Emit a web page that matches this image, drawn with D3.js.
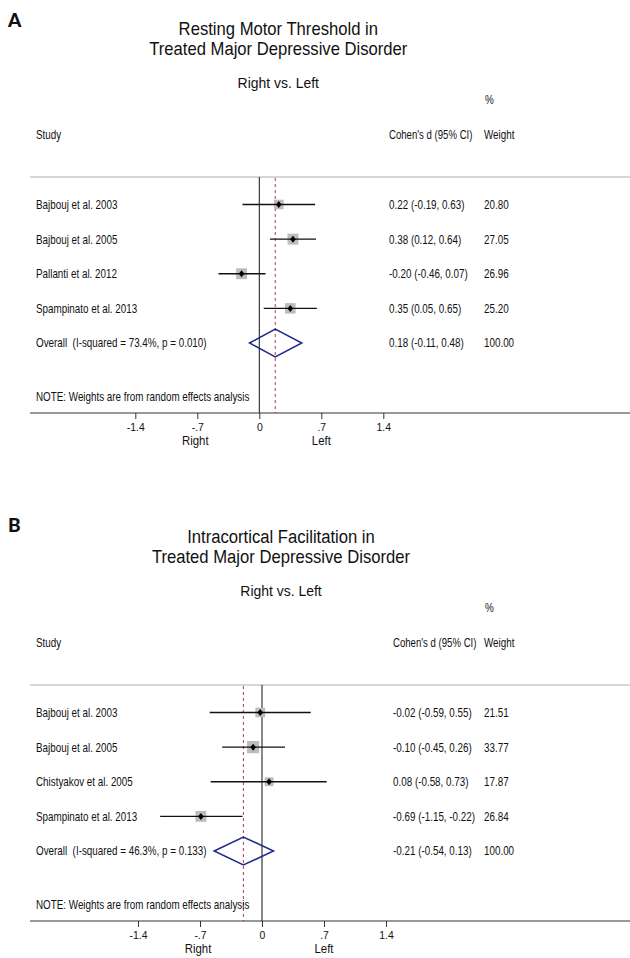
<!DOCTYPE html>
<html>
<head>
<meta charset="utf-8">
<script src="https://cdn.jsdelivr.net/npm/d3@7"></script>
<style>
  body { margin: 0; background: #fff; }
  text { font-family: "Liberation Sans", Arial, sans-serif; fill: #111; }
</style>
</head>
<body>
<svg id="chart" width="630" height="958"></svg>
<script>
// ---- data ----
var panelLetters = ["A", "B"];
var titlesLine1 = ["Resting Motor Threshold in", "Intracortical Facilitation in"];
var titlesLine2 = ["Treated Major Depressive Disorder", "Treated Major Depressive Disorder"];
var subtitle = "Right vs. Left";

var studiesA = ["Bajbouj et al. 2003", "Bajbouj et al. 2005", "Pallanti et al. 2012", "Spampinato et al. 2013"];
var esA = [0.22, 0.38, -0.20, 0.35];
var loA = [-0.19, 0.12, -0.46, 0.05];
var hiA = [0.63, 0.64, 0.07, 0.65];
var weightA = [20.80, 27.05, 26.96, 25.20];

var studiesB = ["Bajbouj et al. 2003", "Bajbouj et al. 2005", "Chistyakov et al. 2005", "Spampinato et al. 2013"];
var esB = [-0.02, -0.10, 0.08, -0.69];
var loB = [-0.59, -0.45, -0.58, -1.15];
var hiB = [0.55, 0.26, 0.73, -0.22];
var weightB = [21.51, 33.77, 17.87, 26.84];

// overall: [es, lo, hi, weight]
var overallA = [0.18, -0.11, 0.48, 100];
var overallB = [-0.21, -0.54, 0.13, 100];
var overallLabels = ["Overall  (I-squared = 73.4%, p = 0.010)", "Overall  (I-squared = 46.3%, p = 0.133)"];

var tickVals = [-1.4, -0.7, 0, 0.7, 1.4];
var tickLabels = ["-1.4", "-.7", "0", ".7", "1.4"];
var noteText = "NOTE: Weights are from random effects analysis";

var svg = d3.select("#chart");
var f2 = d3.formatLocale({ decimal: ".", thousands: ",", grouping: [3], currency: ["", ""], minus: "-" }).format(".2f");

// squeeze text horizontally like the source image (scale around its x anchor)
function condense(sel, k) {
  k = k || 0.9;
  sel.each(function () {
    var t = d3.select(this);
    var x0 = +t.attr("x") || 0;
    t.attr("x", 0).attr("transform", "translate(" + x0 + ",0) scale(" + k + ",1)");
  });
}
function tbl(sel) { condense(sel, 0.82); }

function drawPanel(idx, top, zeroX, ciX, studies, es, lo, hi, wt, overall) {
  var g = svg.append("g").attr("transform", "translate(0," + top + ")");
  var x = d3.scaleLinear().domain([0, 1.4]).range([zeroX, zeroX + 124]);
  var y = d3.scaleLinear().domain([0, 4]).range([27.5, 166]);
  var axisY = 236;

  g.append("text").attr("x", 8).attr("y", idx === 0 ? -150 : -153)
    .style("font-family", "Lato, 'Open Sans', sans-serif").style("font-weight", 900)
    .style("font-size", "19px").text(panelLetters[idx]);

  var cx = zeroX + 19;
  g.append("text").attr("x", cx).attr("y", -142).attr("text-anchor", "middle")
    .style("font-size", "18.5px").text(titlesLine1[idx]).call(condense);
  g.append("text").attr("x", cx).attr("y", -122).attr("text-anchor", "middle")
    .style("font-size", "18.5px").text(titlesLine2[idx]).call(condense);
  g.append("text").attr("x", cx).attr("y", -89).attr("text-anchor", "middle")
    .style("font-size", "15.5px").text(subtitle).call(condense);

  g.append("text").attr("x", 485).attr("y", -73).style("font-size", "12px").text("%").call(tbl);
  g.append("text").attr("x", 36).attr("y", -38).style("font-size", "12px").text("Study").call(tbl);
  g.append("text").attr("x", ciX).attr("y", -38).style("font-size", "12px").text("Cohen's d (95% CI)").call(condense, 0.8);
  g.append("text").attr("x", 484).attr("y", -38).style("font-size", "12px").text("Weight").call(tbl);

  // top rule
  g.append("line").attr("x1", 30).attr("x2", 630).attr("y1", 0).attr("y2", 0)
    .attr("stroke", "#c8c8c8").attr("stroke-width", 1.5);

  // null line and overall line
  g.append("line").attr("x1", x(0)).attr("x2", x(0)).attr("y1", 0).attr("y2", axisY)
    .attr("stroke", "#111").attr("stroke-width", 1);
  g.append("line").attr("x1", x(overall[0])).attr("x2", x(overall[0])).attr("y1", 1).attr("y2", axisY)
    .attr("stroke", "#b33a4a").attr("stroke-width", 1).attr("stroke-dasharray", "3,3");

  var rows = studies.map(function (s, i) {
    return { name: s, es: es[i], lo: lo[i], hi: hi[i], w: wt[i], i: i };
  });

  var row = g.selectAll(".row").data(rows).enter().append("g").attr("class", "row");
  row.append("rect")
    .attr("x", function (d) { return x(d.es) - 1.05 * Math.sqrt(d.w); })
    .attr("y", function (d) { return y(d.i) - 1.05 * Math.sqrt(d.w); })
    .attr("width", function (d) { return 2.1 * Math.sqrt(d.w); })
    .attr("height", function (d) { return 2.1 * Math.sqrt(d.w); })
    .attr("fill", "#bdbdbd");
  row.append("line")
    .attr("x1", function (d) { return x(d.lo); }).attr("x2", function (d) { return x(d.hi); })
    .attr("y1", function (d) { return y(d.i); }).attr("y2", function (d) { return y(d.i); })
    .attr("stroke", "#111").attr("stroke-width", 1.3);
  row.append("path")
    .attr("d", function (d) {
      var px = x(d.es), py = y(d.i);
      return "M" + (px - 2.8) + "," + py + "L" + px + "," + (py - 3.5) + "L" + (px + 2.8) + "," + py + "L" + px + "," + (py + 3.5) + "Z";
    })
    .attr("fill", "#000");
  row.append("text").attr("x", 36).attr("y", function (d) { return y(d.i) + 4.5; })
    .style("font-size", "12px").text(function (d) { return d.name; }).call(tbl);
  row.append("text").attr("x", ciX).attr("y", function (d) { return y(d.i) + 4.5; })
    .style("font-size", "12px")
    .text(function (d) { return f2(d.es) + " (" + f2(d.lo) + ", " + f2(d.hi) + ")"; }).call(tbl);
  row.append("text").attr("x", 484).attr("y", function (d) { return y(d.i) + 4.5; })
    .style("font-size", "12px").text(function (d) { return f2(d.w); }).call(tbl);

  // overall diamond
  var oy = y(4);
  g.append("path")
    .attr("d", "M" + x(overall[1]) + "," + oy + "L" + x(overall[0]) + "," + (oy - 14) +
      "L" + x(overall[2]) + "," + oy + "L" + x(overall[0]) + "," + (oy + 14) + "Z")
    .attr("fill", "none").attr("stroke", "#1f2a8a").attr("stroke-width", 1.5);
  g.append("text").attr("x", 36).attr("y", oy + 4.5).style("font-size", "12px")
    .attr("xml:space", "preserve").text(overallLabels[idx]).call(tbl);
  g.append("text").attr("x", ciX).attr("y", oy + 4.5).style("font-size", "12px")
    .text(f2(overall[0]) + " (" + f2(overall[1]) + ", " + f2(overall[2]) + ")").call(tbl);
  g.append("text").attr("x", 484).attr("y", oy + 4.5).style("font-size", "12px")
    .text(f2(overall[3])).call(tbl);

  g.append("text").attr("x", 36).attr("y", 224).style("font-size", "12px").text(noteText).call(tbl);

  // axis
  g.append("line").attr("x1", 30).attr("x2", 630).attr("y1", axisY).attr("y2", axisY)
    .attr("stroke", "#333").attr("stroke-width", 1);
  var ax = g.append("g").attr("transform", "translate(0," + axisY + ")")
    .call(d3.axisBottom(x).tickValues(tickVals).tickSize(6).tickPadding(4)
      .tickFormat(function (d, i) { return tickLabels[i]; }));
  ax.select(".domain").remove();
  ax.selectAll(".tick line").attr("stroke", "#333");
  ax.selectAll(".tick text").style("font-family", "'Liberation Sans', Arial, sans-serif")
    .style("font-size", "11px").attr("fill", "#111").call(condense, 0.95);

  g.append("text").attr("x", x(-0.7) - 2).attr("y", axisY + 32).attr("text-anchor", "middle")
    .style("font-size", "12px").text("Right").call(condense, 0.95);
  g.append("text").attr("x", x(0.7)).attr("y", axisY + 32).attr("text-anchor", "middle")
    .style("font-size", "12px").text("Left").call(condense, 0.95);
}

drawPanel(0, 177, 259.3, 389, studiesA, esA, loA, hiA, weightA, overallA);
drawPanel(1, 685, 262, 393, studiesB, esB, loB, hiB, weightB, overallB);
</script>
</body>
</html>
